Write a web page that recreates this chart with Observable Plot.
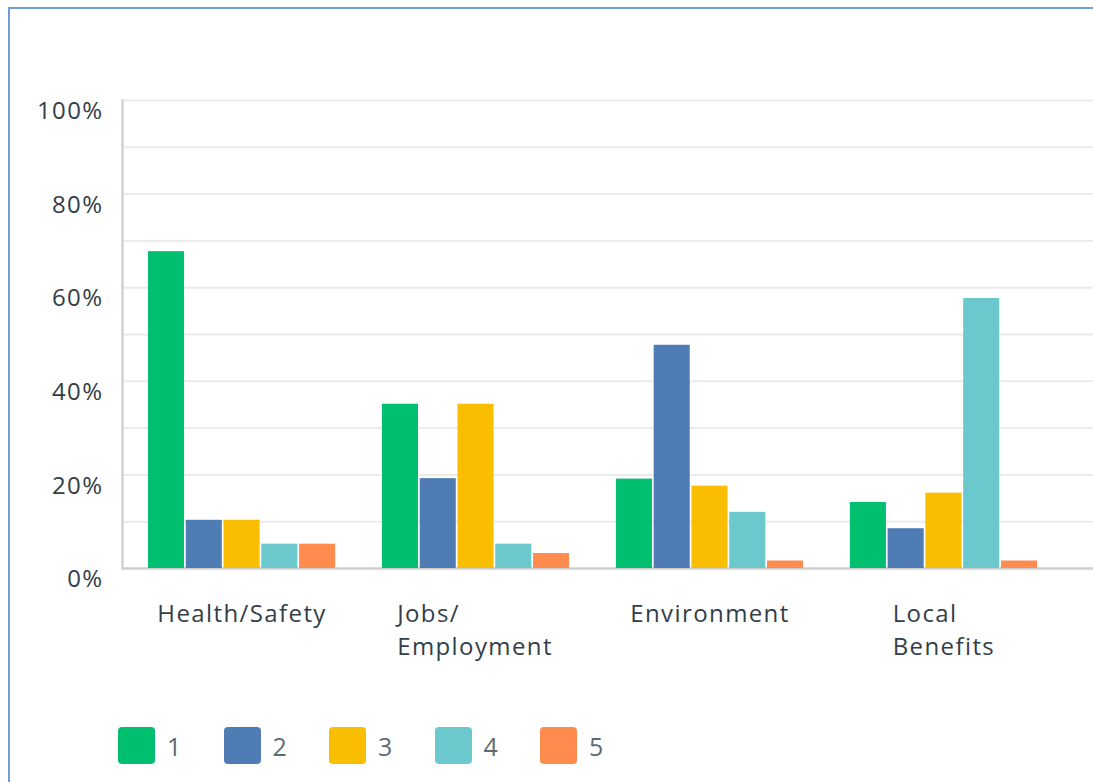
<!DOCTYPE html>
<html><head><meta charset="utf-8">
<script src="https://cdn.jsdelivr.net/npm/d3@7"></script>
<script src="https://cdn.jsdelivr.net/npm/@observablehq/plot@0.6"></script>
<style>
body{margin:0;background:#fff;font-family:"Open Sans",sans-serif;overflow:hidden;}
#frame{position:absolute;left:8px;top:7px;width:1200px;height:900px;border-left:2px solid #6d9fd6;border-top:2px solid #6d9fd6;}
.layer{position:absolute;left:0;top:0;}
#legend{position:absolute;left:118px;top:727px;display:flex;}
.item{display:flex;align-items:center;width:105.5px;}
.sw{width:37px;height:37px;border-radius:4px;margin-right:12px;}
.lab{font-size:25px;color:#5f6b73;letter-spacing:1px;}
</style></head><body>
<div id="frame"></div>
<div id="base" class="layer"></div>
<div id="bars" class="layer"></div>
<div id="legend"></div>
<script>
const categories = ["Health/Safety", "Jobs/\nEmployment", "Environment", "Local\nBenefits"];
const series = ["1", "2", "3", "4", "5"];
const colors = ["#00bf6f", "#507cb6", "#f9be00", "#6bc8cd", "#ff8b4f"];
const s1 = [67.7, 35.1, 19.1, 14.1];
const s2 = [10.3, 19.2, 47.7, 8.5];
const s3 = [10.3, 35.1, 17.6, 16.1];
const s4 = [5.2, 5.2, 12.0, 57.7];
const s5 = [5.2, 3.2, 1.6, 1.6];
const yTicks = [0, 20, 40, 60, 80, 100];
const gridTicks = [10, 20, 30, 40, 50, 60, 70, 80, 90, 100];

const seriesValues = [s1, s2, s3, s4, s5];
const data = [];
categories.forEach((c, i) => series.forEach((s, j) => data.push({category: c, series: s, value: seriesValues[j][i]})));

const common = {
  width: 1093, height: 700,
  marginLeft: 122, marginRight: 0, marginTop: 100, marginBottom: 132,
  style: {fontFamily: "'Open Sans', sans-serif", background: "transparent", overflow: "visible", letterSpacing: "1.4px"},
  y: {domain: [0, 100], axis: null}
};

// background layer: grid, axis lines, y tick labels
const base = Plot.plot({
  ...common,
  marks: [
    Plot.ruleY(gridTicks, {stroke: "#ebebeb", strokeWidth: 2}),
    Plot.ruleY([0], {stroke: "#cfcfcf", strokeWidth: 2.5}),
    Plot.frame({anchor: "left", stroke: "#d2d2d2", strokeWidth: 2.5}),
    Plot.axisY({ticks: yTicks, tickFormat: d => d + "%", tickSize: 0, tickPadding: 19, dy: 11, fontSize: 24, color: "#333e48"})
  ]
});
document.getElementById("base").appendChild(base);

// bars layer, grouped by category facets
const plot = Plot.plot({
  ...common,
  fx: {domain: categories, range: [122, 1063], paddingInner: 0.2, paddingOuter: 0.111, round: false, label: null},
  x: {domain: series, paddingInner: 0.045, paddingOuter: 0, round: false, axis: null},
  color: {domain: series, range: colors},
  marks: [
    Plot.barY(data, {fx: "category", x: "series", y: "value", fill: "series"}),
    Plot.axisFx({anchor: "bottom", tickSize: 0, tickPadding: 30, fontSize: 24, lineHeight: 1.38, textAnchor: "start", color: "#333e48", label: null})
  ]
});
document.getElementById("bars").appendChild(plot);

// center each wrapped label block under its group, lines left-aligned
plot.querySelectorAll('g[aria-label="fx-axis tick label"] text').forEach(t => {
  const w = t.getBBox().width;
  const tr = t.getAttribute("transform") || "";
  t.setAttribute("transform", tr + ` translate(${-w / 2},0)`);
});

const legend = document.getElementById("legend");
series.forEach((s, i) => {
  const item = document.createElement("div");
  item.className = "item";
  item.innerHTML = `<div class="sw" style="background:${colors[i]}"></div><span class="lab">${s}</span>`;
  legend.appendChild(item);
});
</script>
</body></html>
